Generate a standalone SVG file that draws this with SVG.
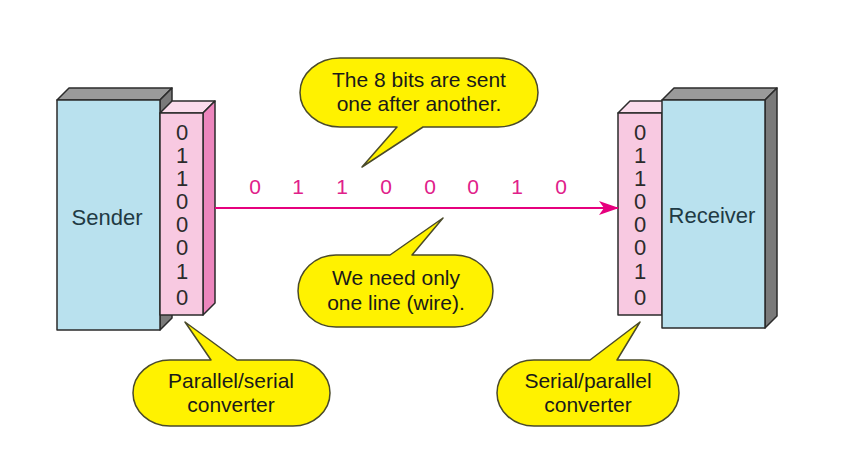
<svg xmlns="http://www.w3.org/2000/svg" width="841" height="456" viewBox="0 0 841 456">
<defs>
<style>
.ol{stroke:#2b2b2b;stroke-width:1.5;stroke-linejoin:round}
.blue{fill:#b9e1ee}
.gtop{fill:#9a9a9a}
.gside{fill:#7a7a7a}
.pf{fill:#f8c9e1}
.ps{fill:#ec86bd}
.pt{fill:#fbdcec}
.bit{font-family:"Liberation Sans",Arial,sans-serif;font-size:22px;fill:#2b2b2b;text-anchor:middle}
.lbl{font-family:"Liberation Sans",Arial,sans-serif;font-size:22px;fill:#1f3a44;text-anchor:middle}
.call{fill:#fff200;stroke:#4a4a2a;stroke-width:1.5;stroke-linejoin:round}
.ct{font-family:"Liberation Sans",Arial,sans-serif;font-size:21px;fill:#1a1a1a;text-anchor:middle}
.pb{font-family:"Liberation Sans",Arial,sans-serif;font-size:21px;fill:#e0208a;text-anchor:middle}
</style>
<marker id="ah" markerWidth="20" markerHeight="14" refX="19" refY="7" orient="auto" markerUnits="userSpaceOnUse">
<path d="M0,0 L20,7 L0,14 L5,7 Z" fill="#e6007e"/>
</marker>
</defs>
<rect width="841" height="456" fill="#ffffff"/>

<g id="sender">
<path class="gtop ol" d="M57,100 L69,88 L172,88 L160,100 Z"/>
<path class="gside ol" d="M160,100 L172,88 L172,318 L160,330 Z"/>
<rect class="blue ol" x="57" y="100" width="103" height="230"/>
<text class="lbl" x="107" y="225">Sender</text>
</g>

<g id="ps-converter">
<path class="pt ol" d="M160,113 L172,101 L215,101 L203,113 Z"/>
<path class="ps ol" d="M203,113 L215,101 L215,303 L203,315 Z"/>
<rect class="pf ol" x="160" y="113" width="43" height="202"/>
<text class="bit" x="182" y="140">0</text>
<text class="bit" x="182" y="163">1</text>
<text class="bit" x="182" y="186">1</text>
<text class="bit" x="182" y="209">0</text>
<text class="bit" x="182" y="232">0</text>
<text class="bit" x="182" y="255">0</text>
<text class="bit" x="182" y="279">1</text>
<text class="bit" x="182" y="305">0</text>
</g>

<g id="sp-converter">
<path class="pt ol" d="M618,113 L630,101 L674,101 L662,113 Z"/>
<rect class="pf ol" x="618" y="113" width="44" height="202"/>
<text class="bit" x="640" y="140">0</text>
<text class="bit" x="640" y="163">1</text>
<text class="bit" x="640" y="186">1</text>
<text class="bit" x="640" y="209">0</text>
<text class="bit" x="640" y="232">0</text>
<text class="bit" x="640" y="255">0</text>
<text class="bit" x="640" y="279">1</text>
<text class="bit" x="640" y="305">0</text>
</g>

<g id="receiver">
<path class="gtop ol" d="M662,100 L674,88 L777,88 L765,100 Z"/>
<path class="gside ol" d="M765,100 L777,88 L777,316 L765,328 Z"/>
<rect class="blue ol" x="662" y="100" width="103" height="228"/>
<text class="lbl" x="712" y="223">Receiver</text>
</g>

<g id="connectors">
<line x1="215" y1="208" x2="618" y2="208" stroke="#e6007e" stroke-width="2" marker-end="url(#ah)"/>
<text class="pb" x="255" y="194">0</text>
<text class="pb" x="298" y="194">1</text>
<text class="pb" x="342" y="194">1</text>
<text class="pb" x="386" y="194">0</text>
<text class="pb" x="430" y="194">0</text>
<text class="pb" x="473" y="194">0</text>
<text class="pb" x="517" y="194">1</text>
<text class="pb" x="561" y="194">0</text>
</g>

<g id="callout-top">
<path class="call" d="M340,58 H498 A40,34.5 0 0 1 498,127 H423 L362,167 L397,127 H340 A40,34.5 0 0 1 340,58 Z"/>
<text class="ct" x="419" y="87">The 8 bits are sent</text>
<text class="ct" x="419" y="111">one after another.</text>
</g>

<g id="callout-mid">
<path class="call" d="M336,255 H390 L443,218 L412,255 H455 A38,36 0 0 1 455,327 H336 A38,36 0 0 1 336,255 Z"/>
<text class="ct" x="396" y="285">We need only</text>
<text class="ct" x="396" y="310">one line (wire).</text>
</g>

<g id="callout-ps">
<path class="call" d="M170,360 H211 L185,322 L237,360 H293 A37,33 0 0 1 293,426 H170 A37,33 0 0 1 170,360 Z"/>
<text class="ct" x="231" y="388">Parallel/serial</text>
<text class="ct" x="231" y="412">converter</text>
</g>

<g id="callout-sp">
<path class="call" d="M534,360 H590 L640,322 L617,360 H642 A37,33 0 0 1 642,426 H534 A37,33 0 0 1 534,360 Z"/>
<text class="ct" x="588" y="388">Serial/parallel</text>
<text class="ct" x="588" y="412">converter</text>
</g>
</svg>
